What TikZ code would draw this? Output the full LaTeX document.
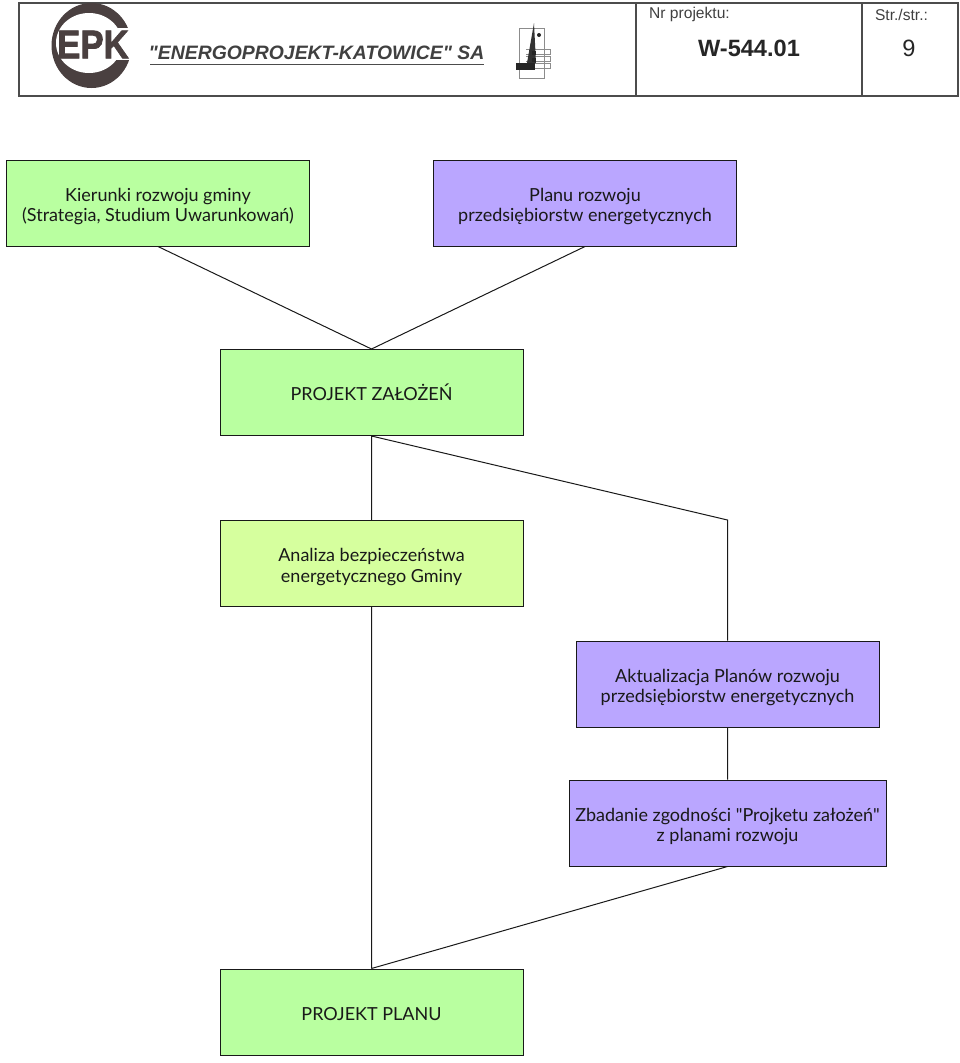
\documentclass[tikz,border=0pt]{standalone}
\usepackage{fontspec}
\setmainfont{Liberation Sans}
\newfontfamily\hdrfont{Liberation Sans}
\newfontfamily\logofont[BoldFeatures={FakeBold=2}]{Liberation Sans}
\newfontfamily\boxfont{Lato}
\usetikzlibrary{positioning}
\definecolor{epkgreen}{RGB}{185,255,160}
\definecolor{epklime}{RGB}{214,255,158}
\definecolor{epkviolet}{RGB}{186,166,255}
\definecolor{epkdark}{RGB}{74,64,64}
\tikzset{stage/.style={draw=black!90,line width=1pt,minimum width=303pt,minimum height=86pt,
    align=center,inner sep=0pt,text=black!90,font=\boxfont\fontsize{18}{20.5}\selectfont}}
\tikzset{cell/.style={draw=black!70,line width=1.2pt,minimum height=93pt,inner sep=0pt}}
\tikzset{link/.style={draw=black!90,line width=1pt}}
\tikzset{markline/.style={draw=black!45,line width=0.6pt}}
\def\lift {\rule{0pt}{20pt}}

\begin{document}
\begin{tikzpicture}[x=1pt,y=-1pt,node distance=100pt,on grid]
        \useasboundingbox (0,0) rectangle (960,1063);
        % header
        \node(hdrname)[cell,minimum width=617pt] at (327.5,49.5){};
        \node(hdrnr)[cell,minimum width=226pt] at (749,49.5){};
        \node(hdrstr)[cell,minimum width=96pt] at (910,49.5){};
        \node(nrlabel)[font=\fontsize{15.6}{17}\selectfont,text=black!75] at (689.5,14.5){Nr projektu:};
        \node(nrvalue)[font=\bfseries\fontsize{23.6}{25}\selectfont,text=black!85] at (749,48){W-544.01};
        \node(strlabel)[font=\fontsize{15.6}{17}\selectfont,text=black!75] at (901.5,14.5){Str./str.:};
        \node(strvalue)[font=\fontsize{23.6}{25}\selectfont,text=black!85] at (909,48){9};
        \node(title)[font=\hdrfont\bfseries\itshape\fontsize{19.4}{22}\selectfont,text=black!75,inner sep=0pt] at (316.5,52.5)
          {"ENERGOPROJEKT-KATOWICE" SA};
        \draw[black!70,line width=1pt] (150,64) -- (484,64);
        % logo
        \fill[epkdark] (91.5,45.5) ellipse (40 and 42.5);
        \fill[white] (89,43) ellipse (33 and 30);
        \fill[white] (89,28) rectangle (135,60);
        \node(epk)[font=\logofont\bfseries\fontsize{40}{41}\selectfont,text=epkdark,xscale=0.87,inner sep=0pt] at (93,44.5){EPK};
        % small mark
        \draw[markline] (519,28) rectangle (544,78);
        \foreach \y in {49,56,63}
          \draw[markline] (526,\y) -- (550,\y) -- (550,\y+5) -- (526,\y+5);
        \fill[black!80] (534,23) -- (536,63) -- (527,63) -- cycle;
        \fill[black!85] (516,63) rectangle (535,70);
        \fill[black!85] (532,51) rectangle (536,55);
        \fill[black!85] (532,58) rectangle (536,62);
        \fill[black!85] (539,35) circle (2);
        % stages
        \node(kier)[stage,fill=epkgreen] at (158,203){\lift Kierunki rozwoju gminy\\(Strategia, Studium Uwarunkowań)};
        \node(planu)[stage,fill=epkviolet,right=427pt of kier]{\lift Planu rozwoju\\przedsiębiorstw energetycznych};
        \node(zal)[stage,fill=epkgreen] at (371.5,392.5){PROJEKT ZAŁOŻEŃ};
        \node(anal)[stage,fill=epklime,below=171pt of zal]{\lift Analiza bezpieczeństwa\\energetycznego Gminy};
        \node(aktu)[stage,fill=epkviolet] at (727.5,684){\lift Aktualizacja Planów rozwoju\\przedsiębiorstw energetycznych};
        \node(zbad)[stage,fill=epkviolet,minimum width=317pt,below=139pt of aktu]{\lift Zbadanie zgodności "Projketu założeń"\\z planami rozwoju};
        \node(plan)[stage,fill=epkgreen,below=448.5pt of anal]{\rule{0pt}{18pt}PROJEKT PLANU};
        \coordinate(bend) at (aktu.north |- anal.north);
        \draw[link]
        (kier.south) -- (zal.north)
        (planu.south) -- (zal.north)
        (zal.south) -- (anal.north)
        (zal.south) -- (bend) -- (aktu.north)
        (anal.south) -- (plan.north)
        (aktu.south) -- (zbad.north)
        (zbad.south) -- (plan.north);
      \end{tikzpicture}
\end{document}
